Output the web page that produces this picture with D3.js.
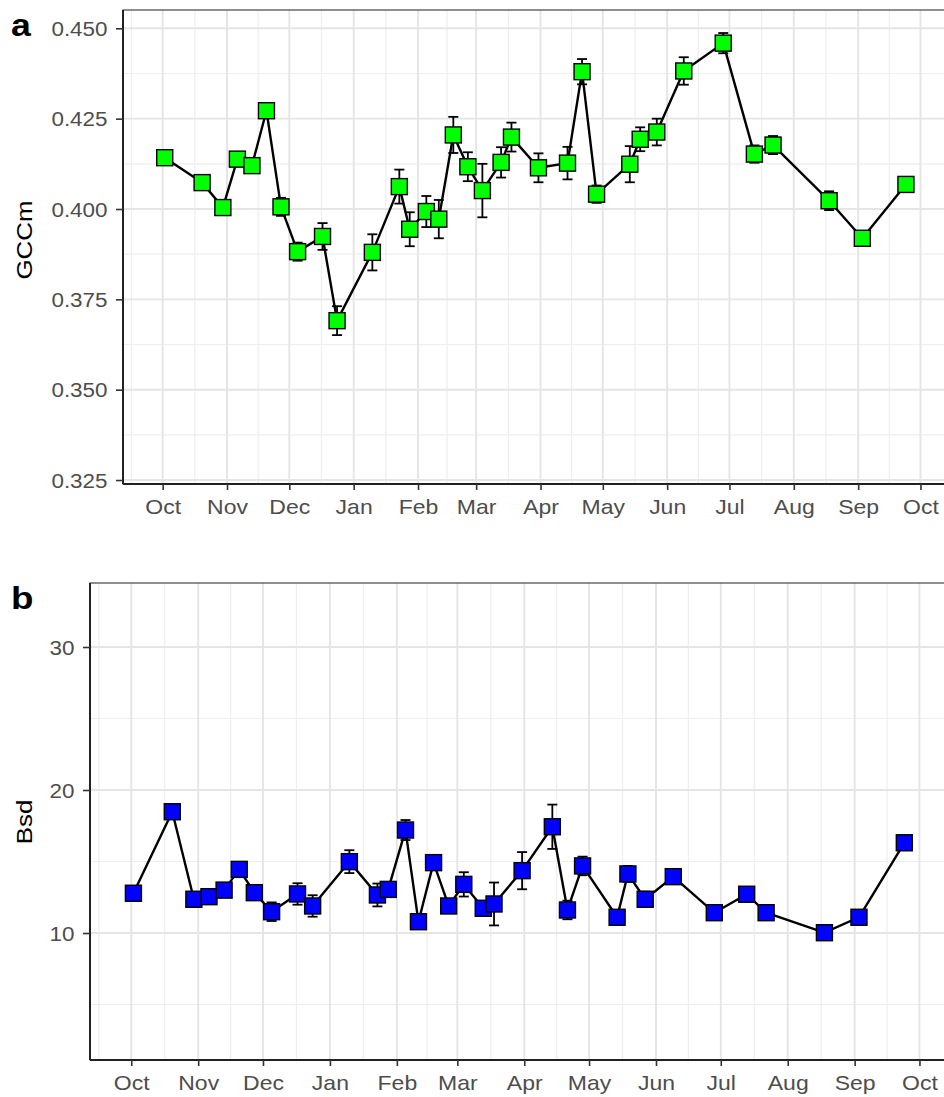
<!DOCTYPE html>
<html>
<head>
<meta charset="utf-8">
<script src="https://cdn.jsdelivr.net/npm/d3@7"></script>
<style>
  html, body { margin: 0; padding: 0; background: #fff; }
  svg { display: block; }
  text { font-family: "Liberation Sans", Arial, Helvetica, sans-serif; }
</style>
</head>
<body>
<script>
// Sampling dates shared by both series
const sampleDates = [
  "2016-10-02", "2016-10-20", "2016-10-30", "2016-11-06", "2016-11-13", "2016-11-20",
  "2016-11-27", "2016-12-05", "2016-12-17", "2016-12-24", "2017-01-10", "2017-01-23",
  "2017-01-28", "2017-02-05", "2017-02-11", "2017-02-18", "2017-02-25", "2017-03-04",
  "2017-03-13", "2017-03-18", "2017-03-31", "2017-04-14", "2017-04-21", "2017-04-28",
  "2017-05-14", "2017-05-19", "2017-05-27", "2017-06-09", "2017-06-28", "2017-07-13",
  "2017-07-22", "2017-08-18", "2017-09-03", "2017-09-24"
];

// Panel a: mean green chromatic coordinate and its standard error
const gccmValues = [
  0.4142, 0.4073, 0.4004, 0.4138, 0.4120, 0.4272, 0.4006, 0.3882, 0.3924, 0.3691,
  0.3880, 0.4062, 0.3944, 0.3993, 0.3972, 0.4205, 0.4117, 0.4051, 0.4129, 0.4199,
  0.4114, 0.4127, 0.4380, 0.4041, 0.4124, 0.4193, 0.4213, 0.4382, 0.4459, 0.4152,
  0.4177, 0.4023, 0.3919, 0.4068
];
const gccmErr = [
  0.0015, 0.0015, 0.0015, 0.0015, 0.0015, 0.0015, 0.0025, 0.0025, 0.0037, 0.0040,
  0.0050, 0.0047, 0.0047, 0.0043, 0.0053, 0.0050, 0.0040, 0.0074, 0.0042, 0.0040,
  0.0040, 0.0045, 0.0035, 0.0024, 0.0050, 0.0033, 0.0037, 0.0038, 0.0028, 0.0024,
  0.0025, 0.0026, 0.0010, 0.0010
];

// Panel b: blue channel standard deviation and its standard error
const bsdValues = [
  12.78, 18.48, 12.36, 12.54, 13.00, 14.45, 12.82, 11.49, 12.73, 11.89,
  14.99, 12.66, 13.05, 17.20, 10.79, 14.92, 11.89, 13.40, 11.73, 12.03,
  14.36, 17.43, 11.61, 14.69, 11.10, 14.13, 12.36, 13.94, 11.42, 12.71,
  11.42, 10.02, 11.10, 16.31
];
const bsdErr = [
  0.2, 0.2, 0.2, 0.2, 0.2, 0.3, 0.3, 0.65, 0.75, 0.75,
  0.8, 0.8, 0.4, 0.7, 0.2, 0.2, 0.2, 0.85, 0.3, 1.5,
  1.3, 1.55, 0.65, 0.65, 0.2, 0.56, 0.53, 0.52, 0.2, 0.2,
  0.2, 0.2, 0.2, 0.2
];

// Axis breaks
const monthTicks = [
  "2016-10-01", "2016-11-01", "2016-12-01", "2017-01-01", "2017-02-01", "2017-03-01",
  "2017-04-01", "2017-05-01", "2017-06-01", "2017-07-01", "2017-08-01", "2017-09-01",
  "2017-10-01"
];
const gccmTicks = [0.325, 0.350, 0.375, 0.400, 0.425, 0.450];
const bsdTicks = [10, 20, 30];

const W = 944, H = 1097;
const TX = 1.15; // horizontal glyph stretch for the labels
const parse = d3.utcParse("%Y-%m-%d");
const dates = sampleDates.map(parse);
const majorX = monthTicks.map(parse);
// minor x breaks sit halfway between month starts, one on each side included
const monthEdges = [d3.utcMonth.offset(majorX[0], -1), ...majorX, d3.utcMonth.offset(majorX[majorX.length - 1], 1)];
const minorX = d3.pairs(monthEdges).map(([a, b]) => new Date((+a + +b) / 2));

// common date window for both panels
const xStart = new Date(+majorX[0] - 19.1 * 864e5);
const xEnd = new Date(+majorX[0] + 377.3 * 864e5);

const svg = d3.select("body").append("svg")
  .attr("width", W).attr("height", H)
  .attr("viewBox", `0 0 ${W} ${H}`);
svg.append("rect").attr("width", W).attr("height", H).attr("fill", "#fff");

function panel(opts) {
  const { left, right, top, bottom, yDomain, yTicks, yFmt, values, errs, fill, title, tag, titleX, titleY, tagY, tagSize } = opts;
  const x = d3.scaleUtc().domain([xStart, xEnd]).range([left, right]);
  const y = d3.scaleLinear().domain(yDomain).range([bottom, top]);

  const g = svg.append("g");
  const clipId = "clip-" + tag;
  g.append("clipPath").attr("id", clipId)
    .append("rect").attr("x", left).attr("y", top).attr("width", right - left).attr("height", bottom - top);

  const grid = g.append("g").attr("clip-path", `url(#${clipId})`);
  // minor y breaks halfway between the major ones
  const step = yTicks[1] - yTicks[0];
  const minorY = d3.range(yTicks[0] - step / 2, yDomain[1] + step, step)
    .filter(v => v > yDomain[0] && v < yDomain[1]);
  const majorY = d3.range(yTicks[0] - step * 2, yDomain[1] + step, step)
    .filter(v => v > yDomain[0] && v < yDomain[1]);

  grid.selectAll(".hmin").data(minorY).join("line")
    .attr("x1", left).attr("x2", right)
    .attr("y1", d => y(d)).attr("y2", d => y(d))
    .attr("stroke", "#eeeeee").attr("stroke-width", 1.2);
  grid.selectAll(".vmin").data(minorX).join("line")
    .attr("x1", d => x(d)).attr("x2", d => x(d))
    .attr("y1", top).attr("y2", bottom)
    .attr("stroke", "#eeeeee").attr("stroke-width", 1.2);
  grid.selectAll(".hmaj").data(majorY).join("line")
    .attr("x1", left).attr("x2", right)
    .attr("y1", d => y(d)).attr("y2", d => y(d))
    .attr("stroke", "#e5e5e5").attr("stroke-width", 1.9);
  grid.selectAll(".vmaj").data(majorX).join("line")
    .attr("x1", d => x(d)).attr("x2", d => x(d))
    .attr("y1", top).attr("y2", bottom)
    .attr("stroke", "#e5e5e5").attr("stroke-width", 1.9);

  // panel border (top edge visible)
  g.append("rect")
    .attr("x", left).attr("y", top).attr("width", right - left).attr("height", bottom - top)
    .attr("fill", "none").attr("stroke", "#333").attr("stroke-width", 1.1);

  // data marks
  const pts = dates.map((d, i) => ({ d, v: values[i], e: errs[i] }));
  const marks = g.append("g").attr("clip-path", `url(#${clipId})`);
  marks.append("path").datum(pts)
    .attr("d", d3.line().x(p => x(p.d)).y(p => y(p.v)))
    .attr("fill", "none").attr("stroke", "#000").attr("stroke-width", 2.4)
    .attr("stroke-linejoin", "round");

  const capHalf = 5;
  const eb = marks.selectAll(".eb").data(pts).join("g").attr("stroke", "#000").attr("stroke-width", 1.8);
  eb.append("line")
    .attr("x1", p => x(p.d)).attr("x2", p => x(p.d))
    .attr("y1", p => y(p.v + p.e)).attr("y2", p => y(p.v - p.e));
  eb.append("line")
    .attr("x1", p => x(p.d) - capHalf).attr("x2", p => x(p.d) + capHalf)
    .attr("y1", p => y(p.v + p.e)).attr("y2", p => y(p.v + p.e));
  eb.append("line")
    .attr("x1", p => x(p.d) - capHalf).attr("x2", p => x(p.d) + capHalf)
    .attr("y1", p => y(p.v - p.e)).attr("y2", p => y(p.v - p.e));

  const s = 16;
  marks.selectAll(".pt").data(pts).join("rect")
    .attr("x", p => x(p.d) - s / 2).attr("y", p => y(p.v) - s / 2)
    .attr("width", s).attr("height", s)
    .attr("fill", fill).attr("stroke", "#000").attr("stroke-width", 1.4);

  // axes
  const xAxis = d3.axisBottom(x).tickValues(majorX).tickFormat(d3.utcFormat("%b"))
    .tickSizeInner(6).tickSizeOuter(0).tickPadding(8);
  const gx = g.append("g").attr("transform", `translate(0,${bottom})`).call(xAxis);
  gx.select(".domain").attr("stroke", "#222").attr("stroke-width", 2).attr("d", `M${left},0H${right}`);
  gx.selectAll(".tick line").attr("stroke", "#333").attr("stroke-width", 1.6);
  gx.selectAll(".tick text")
    .attr("font-size", 20).attr("fill", "#4d4d4d")
    .attr("y", 15.5).attr("dy", "0.71em")
    .attr("transform", `scale(${TX},1)`);

  const yAxis = d3.axisLeft(y).tickValues(yTicks).tickFormat(yFmt)
    .tickSizeInner(7).tickSizeOuter(0).tickPadding(8);
  const gy = g.append("g").attr("transform", `translate(${left},0)`).call(yAxis);
  gy.select(".domain").attr("stroke", "#222").attr("stroke-width", 2).attr("d", `M0,${top}V${bottom}`);
  gy.selectAll(".tick line").attr("stroke", "#333").attr("stroke-width", 1.6);
  gy.selectAll(".tick text")
    .attr("font-size", 19.5).attr("fill", "#4d4d4d")
    .attr("x", -15.5 / TX).attr("dy", "0.36em")
    .attr("transform", `scale(${TX},1)`);

  // axis title
  g.append("text")
    .attr("transform", `translate(${titleX},${titleY}) rotate(-90) scale(${TX},1)`)
    .attr("text-anchor", "middle")
    .attr("font-size", 22.5).attr("fill", "#000")
    .text(title);

  // panel tag
  g.append("text")
    .attr("transform", `translate(11,${tagY}) scale(${TX},1)`)
    .attr("font-size", tagSize).attr("font-weight", "bold").attr("fill", "#000")
    .text(tag);
}

panel({
  left: 123, right: 946, top: 10, bottom: 484,
  yDomain: [0.3239, 0.45507], yTicks: gccmTicks, yFmt: d3.format(".3f"),
  values: gccmValues, errs: gccmErr, fill: "#00ff00",
  title: "GCCm", tag: "a", titleX: 31.5, titleY: 240, tagY: 36, tagSize: 31
});

panel({
  left: 90, right: 946, top: 583, bottom: 1060,
  yDomain: [1.119, 34.476], yTicks: bsdTicks, yFmt: d3.format("d"),
  values: bsdValues, errs: bsdErr, fill: "#0000ff",
  title: "Bsd", tag: "b", titleX: 32, titleY: 822, tagY: 609, tagSize: 32
});
</script>
</body>
</html>
